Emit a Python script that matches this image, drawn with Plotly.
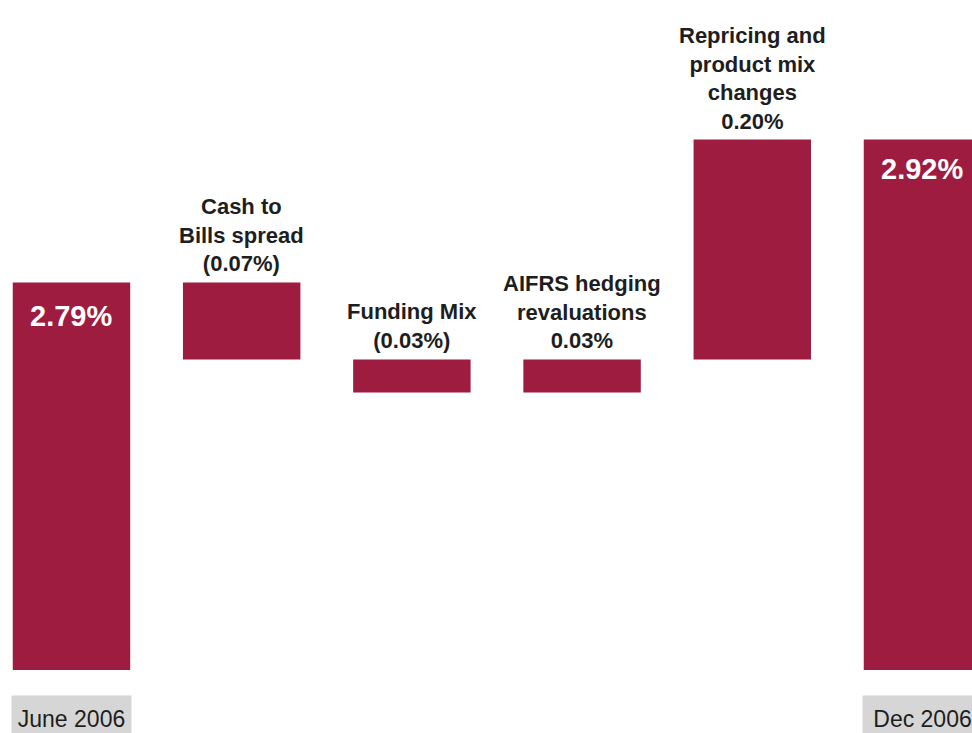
import plotly.graph_objects as go

# Net interest margin bridge, June 2006 -> Dec 2006 (%)
steps = ["June 2006", "Cash to Bills spread", "Funding Mix",
         "AIFRS hedging revaluations", "Repricing and product mix changes", "Dec 2006"]
measures = ["absolute", "relative", "relative", "relative", "relative", "total"]
values = [2.79, -0.07, -0.03, 0.03, 0.20, 0.0]
step_labels = [None, "Cash to<br>Bills spread<br>(0.07%)", "Funding Mix<br>(0.03%)",
               "AIFRS hedging<br>revaluations<br>0.03%",
               "Repricing and<br>product mix<br>changes<br>0.20%", None]
total_labels = ["2.79%", None, None, None, None, "2.92%"]
end_labels = ["June 2006", None, None, None, None, "Dec 2006"]

BAR = "#9d1c3f"
INK = "#1e1e1e"
SANS = "Liberation Sans, Arial, sans-serif"

x = list(range(len(steps)))

fig = go.Figure(go.Waterfall(
    x=x, y=values, measure=measures,
    width=0.69,
    increasing=dict(marker=dict(color=BAR)),
    decreasing=dict(marker=dict(color=BAR)),
    totals=dict(marker=dict(color=BAR)),
    connector=dict(visible=False),
    hoverinfo="skip",
))

# running level before/after each step
level = 0.0
tops = []
for m, v in zip(measures, values):
    if m == "absolute":
        start, level = 0.0, v
    elif m == "relative":
        start, level = level, level + v
    else:
        start = 0.0
    tops.append(max(start, level))

annotations = []
for i in x:
    if step_labels[i]:
        annotations.append(dict(
            x=i, y=tops[i], xref="x", yref="y", text=step_labels[i],
            showarrow=False, yanchor="bottom", yshift=4,
            font=dict(family=SANS, size=22, color=INK, weight="bold")))
    if total_labels[i]:
        annotations.append(dict(
            x=i, y=tops[i], xref="x", yref="y", text=total_labels[i],
            showarrow=False, yanchor="top", yshift=-16 if i == 0 else -11,
            font=dict(family=SANS, size=29, color="white", weight="bold")))
    if end_labels[i]:
        annotations.append(dict(
            x=i, y=0, xref="x", yref="paper", text=end_labels[i],
            showarrow=False, yanchor="top", yshift=-25,
            width=117, height=44, bgcolor="#d6d6d6", valign="middle",
            font=dict(family=SANS, size=23, color=INK)))

fig.update_layout(
    width=972, height=733,
    margin=dict(l=0, r=0, t=0, b=63),
    paper_bgcolor="white", plot_bgcolor="white",
    showlegend=False,
    xaxis=dict(range=[-0.42, 5.291], visible=False, showgrid=False, zeroline=False),
    yaxis=dict(range=[2.4375, 3.0469], visible=False, showgrid=False, zeroline=False),
    annotations=annotations,
)

fig.write_html("out.html")
